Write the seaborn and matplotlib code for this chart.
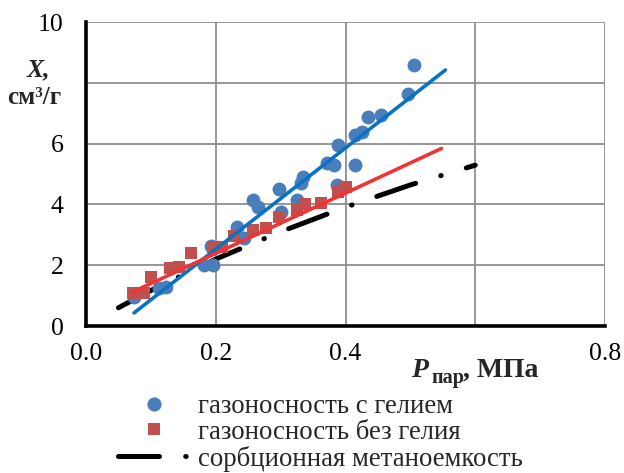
import matplotlib
matplotlib.use("Agg")
import matplotlib.pyplot as plt
from matplotlib.lines import Line2D
import seaborn as sns
import pandas as pd

# ---- data ----
helium_x = [0.074, 0.112, 0.123, 0.182, 0.195, 0.192, 0.233, 0.243, 0.257, 0.265,
            0.297, 0.300, 0.326, 0.331, 0.334, 0.372, 0.382, 0.387, 0.389, 0.415,
            0.415, 0.426, 0.435, 0.454, 0.497, 0.505]
helium_y = [0.96, 1.25, 1.29, 2.02, 2.00, 2.62, 3.25, 2.90, 4.15, 3.92,
            4.50, 3.76, 4.14, 4.72, 4.90, 5.37, 5.30, 4.65, 5.97, 5.30,
            6.28, 6.37, 6.88, 6.95, 7.62, 8.58]

nohelium_x = [0.072, 0.090, 0.100, 0.130, 0.143, 0.162, 0.195, 0.210, 0.228, 0.258,
              0.277, 0.297, 0.326, 0.338, 0.362, 0.388, 0.400]
nohelium_y = [1.10, 1.10, 1.62, 1.90, 1.95, 2.40, 2.60, 2.60, 2.97, 3.17,
              3.23, 3.58, 3.83, 4.00, 4.05, 4.40, 4.58]

helium_fit_x = [0.074, 0.554]
helium_fit_y = [0.43, 8.42]
nohelium_fit_x = [0.072, 0.548]
nohelium_fit_y = [1.12, 5.84]

sorption_x = [0.05, 0.10, 0.20, 0.30, 0.40, 0.50, 0.60]
sorption_y = [0.60, 1.17, 2.20, 3.10, 3.91, 4.64, 5.29]

x_ticks = [0.0, 0.2, 0.4, 0.6, 0.8]
x_ticklabels = ["0.0", "0.2", "0.4", "", "0.8"]
y_ticks = [0, 2, 4, 6, 8, 10]
y_ticklabels = ["0", "2", "4", "6", "", "10"]

labels = ["газоносность с гелием", "газоносность без гелия", "сорбционная метаноемкость"]

# ---- style ----
sns.set_theme(style="white")
plt.rcParams["font.family"] = ["Liberation Serif", "DejaVu Serif"]

BLUE_PT = "#4a7ebb"
RED_PT = "#c0504d"
BLUE_LN = "#0a72c2"
RED_LN = "#f03434"
GRID = "#8f8f8f"

fig = plt.figure(figsize=(6.24, 4.73), dpi=100)
ax = fig.add_axes([86 / 624, 1 - 326 / 473, (605 - 86) / 624, (326 - 22) / 473])
ax.set_facecolor("white")

df_he = pd.DataFrame({"x": helium_x, "y": helium_y})
df_no = pd.DataFrame({"x": nohelium_x, "y": nohelium_y})
df_hef = pd.DataFrame({"x": helium_fit_x, "y": helium_fit_y})
df_nof = pd.DataFrame({"x": nohelium_fit_x, "y": nohelium_fit_y})
df_sor = pd.DataFrame({"x": sorption_x, "y": sorption_y})

DASH = (8.2, 5.24, 0.1, 5.24)
sns.lineplot(data=df_sor, x="x", y="y", ax=ax, color="black", lw=3.6,
             estimator=None, sort=False, zorder=2)
ax.lines[-1].set_dashes(DASH)
ax.lines[-1].set_dash_capstyle("round")

sns.scatterplot(data=df_he, x="x", y="y", ax=ax, color=BLUE_PT, marker="o",
                s=100, linewidth=0, zorder=3)
sns.scatterplot(data=df_no, x="x", y="y", ax=ax, color=RED_PT, marker="s",
                s=76, linewidth=0, zorder=4)
sns.lineplot(data=df_hef, x="x", y="y", ax=ax, color=BLUE_LN, lw=2.6,
             estimator=None, sort=False, zorder=5)
sns.lineplot(data=df_nof, x="x", y="y", ax=ax, color=RED_LN, lw=2.6,
             estimator=None, sort=False, zorder=6)

ax.set_xlim(0, 0.8)
ax.set_ylim(0, 10)
ax.set_xticks(x_ticks)
ax.set_xticklabels(x_ticklabels)
ax.set_yticks(y_ticks)
ax.set_yticklabels(y_ticklabels)
ax.set_xlabel("")
ax.set_ylabel("")

for s in ["top", "right"]:
    ax.spines[s].set_visible(False)
for s in ["left", "bottom"]:
    ax.spines[s].set_color("black")
    ax.spines[s].set_linewidth(2.6)

ax.grid(True, color=GRID, lw=1.3, zorder=0)
ax.set_axisbelow(True)
ax.tick_params(axis="x", direction="inout", length=8, width=2.2, color="black",
               labelsize=18.5, pad=8, labelcolor="black")
ax.tick_params(axis="y", direction="out", length=6, width=2.2, color="black",
               labelsize=18.5, pad=10, labelcolor="black")

# axis titles
fig.text(38 / 624, 1 - 70 / 473, "X,", fontsize=18.5, fontweight="bold",
         style="italic", ha="center", va="center")
fig.text(34 / 624, 1 - 97 / 473, "см³/г", fontsize=18, fontweight="bold",
         ha="center", va="center")
fig.text(411 / 624, 1 - 377 / 473, "P", fontsize=20, fontweight="bold",
         style="italic", ha="left", va="baseline")
fig.text(431 / 624, 1 - 383 / 473, "пар", fontsize=14.5, fontweight="bold",
         ha="left", va="baseline")
fig.text(463 / 624, 1 - 377 / 473, ", МПа", fontsize=20, fontweight="bold",
         ha="left", va="baseline")

# legend
handles = [
    Line2D([], [], ls="", marker="o", ms=10.2, color=BLUE_PT, mew=0),
    Line2D([], [], ls="", marker="s", ms=8.7, color=RED_PT, mew=0),
    Line2D([], [], color="black", lw=3.6, dashes=DASH, dash_capstyle="round"),
]
leg = fig.legend(handles, labels, loc="upper left",
                 bbox_to_anchor=(118 / 624, 1 - 394 / 473),
                 frameon=False, fontsize=19.3, handlelength=2.7,
                 handletextpad=0.3, labelspacing=0.03, borderpad=0,
                 borderaxespad=0)

fig.savefig("out.png", dpi=100)
